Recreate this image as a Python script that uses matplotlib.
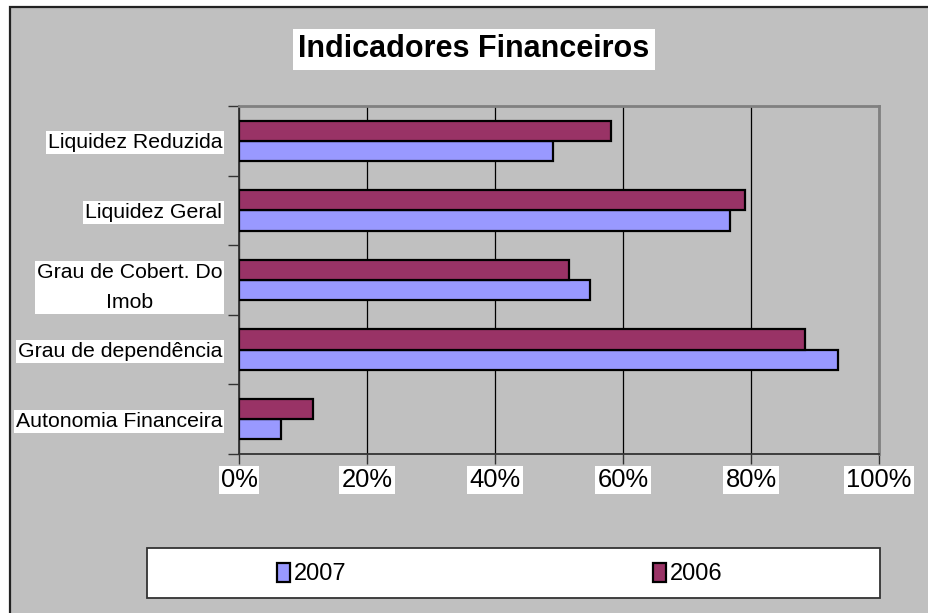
import matplotlib.pyplot as plt
from matplotlib.patches import Rectangle
from matplotlib.ticker import FuncFormatter
import numpy as np

# Dados do gráfico (em %)
categorias = ['Autonomia Financeira', 'Grau de dependência',
              'Grau de Cobert. Do\nImob', 'Liquidez Geral', 'Liquidez Reduzida']
valores_2007 = [6.6, 93.6, 54.8, 76.7, 49.0]
valores_2006 = [11.6, 88.4, 51.5, 79.0, 58.1]
anos = ['2007', '2006']

plt.rcParams['font.family'] = ['Liberation Sans', 'DejaVu Sans']

W, H = 929, 613
fig = plt.figure(figsize=(W / 100, H / 100), dpi=100, facecolor='white')

# fundo cinzento da área do gráfico (estilo Excel)
fig.patches.append(Rectangle((10 / W, -0.05), 1.2, (H - 7) / H + 0.05,
                             transform=fig.transFigure, facecolor='#C0C0C0',
                             edgecolor='#222222', linewidth=1.6, zorder=-10))

ax = fig.add_axes([239 / W, (H - 454) / H, (879 - 239) / W, (454 - 106) / H])
ax.set_facecolor('#C0C0C0')

y = np.arange(len(categorias))
h = 0.29
b07 = ax.barh(y - h / 2, valores_2007, height=h, color='#9999FF',
              edgecolor='black', linewidth=1.6, label=anos[0], zorder=3)
b06 = ax.barh(y + h / 2, valores_2006, height=h, color='#993366',
              edgecolor='black', linewidth=1.6, label=anos[1], zorder=3)

ax.set_xlim(0, 100)
ax.set_ylim(-0.5, len(categorias) - 0.5)
ax.set_xticks(np.arange(0, 101, 20))
ax.xaxis.set_major_formatter(FuncFormatter(lambda v, p: f'{v:.0f}%'))
ax.grid(axis='x', color='black', linewidth=0.9, zorder=0)
ax.set_axisbelow(True)

# rótulos do eixo y centrados, ticks nas fronteiras
ax.set_yticks(y)
ax.set_yticklabels(categorias, multialignment='center', linespacing=1.75)
ax.set_yticks(np.arange(-0.5, len(categorias), 1), minor=True)
ax.tick_params(axis='y', which='major', length=0, pad=12, labelsize=15.3)
ax.tick_params(axis='y', which='minor', length=8, width=1, color='#333333')
ax.tick_params(axis='x', length=7, width=1, color='#333333', pad=3, labelsize=18.4)
for lab in ax.get_yticklabels() + ax.get_xticklabels():
    lab.set_bbox(dict(facecolor='white', edgecolor='none', pad=1.5))

for s in ['left', 'bottom']:
    ax.spines[s].set_color('#333333')
    ax.spines[s].set_linewidth(1.3)
for s in ['top', 'right']:
    ax.spines[s].set_color('#808080')
    ax.spines[s].set_linewidth(2)

# título
fig.text(474 / W, 1 - 49 / H, 'Indicadores Financeiros', ha='center', va='center',
         fontsize=22, fontweight='bold',
         bbox=dict(facecolor='white', edgecolor='none', pad=4))

# caixa da legenda
fig.patches.append(Rectangle((147 / W, (H - 598) / H), (880 - 147) / W, 50 / H,
                             transform=fig.transFigure, facecolor='white',
                             edgecolor='#333333', linewidth=1.3, zorder=1))
leg = fig.legend(handles=[b07, b06], labels=anos, loc='center',
                 bbox_to_anchor=(500 / W, 1 - 574 / H), ncol=2, frameon=False,
                 fontsize=17, handlelength=0.55, handleheight=0.9,
                 handletextpad=0.15, columnspacing=13)
leg.set_zorder(5)

fig.savefig('out.png', dpi=100, facecolor=fig.get_facecolor())
